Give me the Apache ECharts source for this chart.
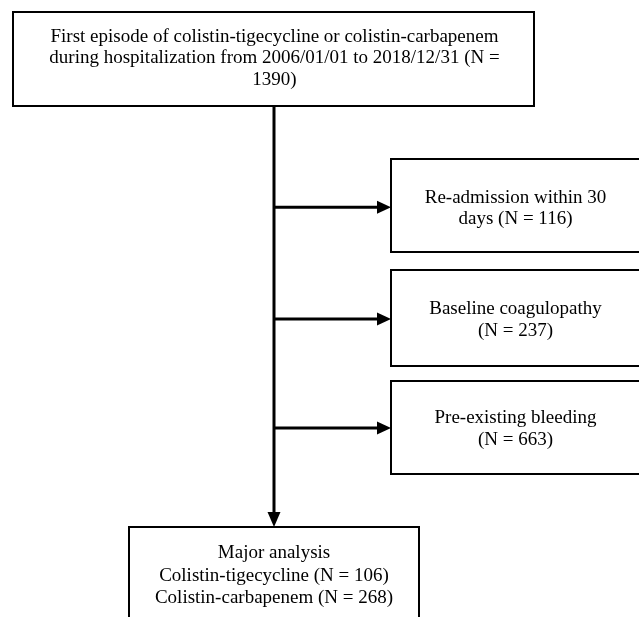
<!DOCTYPE html>
<html>
<head>
<meta charset="utf-8">
<script src="https://cdn.jsdelivr.net/npm/echarts@6/dist/echarts.min.js"></script>
<style>
html,body{margin:0;padding:0;background:#fff;}
#main{width:639px;height:617px;}
</style>
</head>
<body>
<div id="main"></div>
<script>
// ---- data ----
var startDate = '2006/01/01';
var endDate = '2018/12/31';
var totalN = 1390;
var exclusionLabels = ['Re-admission within 30\ndays', 'Baseline coagulopathy\n', 'Pre-existing bleeding\n'];
var exclusionN = [116, 237, 663];
var groupLabels = ['Colistin-tigecycline', 'Colistin-carbapenem'];
var groupN = [106, 268];

// ---- layout ----
var FONT = '19px "Liberation Serif", "Times New Roman", serif';
var LH = 21.5;
var mainX = 274;
var topBox = {x: 13, y: 12, w: 521, h: 94};
var exBoxes = [
  {x: 391, y: 159, w: 250, h: 93, ay: 207.3},
  {x: 391, y: 270, w: 250, h: 96, ay: 319},
  {x: 391, y: 381, w: 250, h: 93, ay: 428}
];
var botBox = {x: 129, y: 527, w: 290, h: 120};

var chart = echarts.init(document.getElementById('main'), null, {renderer: 'canvas'});
var els = [];

function box(b) {
  els.push({type: 'rect', shape: {x: b.x, y: b.y, width: b.w, height: b.h},
    style: {fill: '#fff', stroke: '#000', lineWidth: 2}, z: 1});
}
function txt(s, cx, cy, lh) {
  els.push({type: 'text', x: cx, y: cy, z: 3,
    style: {text: s, font: FONT, fill: '#000', align: 'center', verticalAlign: 'middle', lineHeight: lh || LH}});
}

// top box
box(topBox);
txt('First episode of colistin-tigecycline or colistin-carbapenem\nduring hospitalization from ' + startDate + ' to ' + endDate + ' (N =\n' + totalN + ')',
  topBox.x + topBox.w / 2 + 1, 58.5);

// main vertical line
els.push({type: 'line', shape: {x1: mainX, y1: topBox.y + topBox.h, x2: mainX, y2: botBox.y - 12},
  style: {stroke: '#000', lineWidth: 3}, z: 2});
els.push({type: 'polygon', shape: {points: [[mainX - 6.5, botBox.y - 15], [mainX + 6.5, botBox.y - 15], [mainX, botBox.y]]},
  style: {fill: '#000'}, z: 2});

// exclusion boxes + arrows
exBoxes.forEach(function (b, i) {
  box(b);
  var lbl = exclusionLabels[i];
  var s = lbl.charAt(lbl.length - 1) === '\n' ? lbl + '(N = ' + exclusionN[i] + ')' : lbl + ' (N = ' + exclusionN[i] + ')';
  txt(s, 515.5, b.ay + 1);
  els.push({type: 'line', shape: {x1: mainX, y1: b.ay, x2: b.x - 12, y2: b.ay},
    style: {stroke: '#000', lineWidth: 3}, z: 2});
  els.push({type: 'polygon', shape: {points: [[b.x - 14, b.ay - 6.5], [b.x - 14, b.ay + 6.5], [b.x, b.ay]]},
    style: {fill: '#000'}, z: 2});
});

// bottom box
box(botBox);
txt('Major analysis\n' + groupLabels[0] + ' (N = ' + groupN[0] + ')\n' + groupLabels[1] + ' (N = ' + groupN[1] + ')',
  274, 576, 22.5);

chart.setOption({
  backgroundColor: '#fff',
  animation: false,
  graphic: {elements: els}
});
</script>
</body>
</html>
